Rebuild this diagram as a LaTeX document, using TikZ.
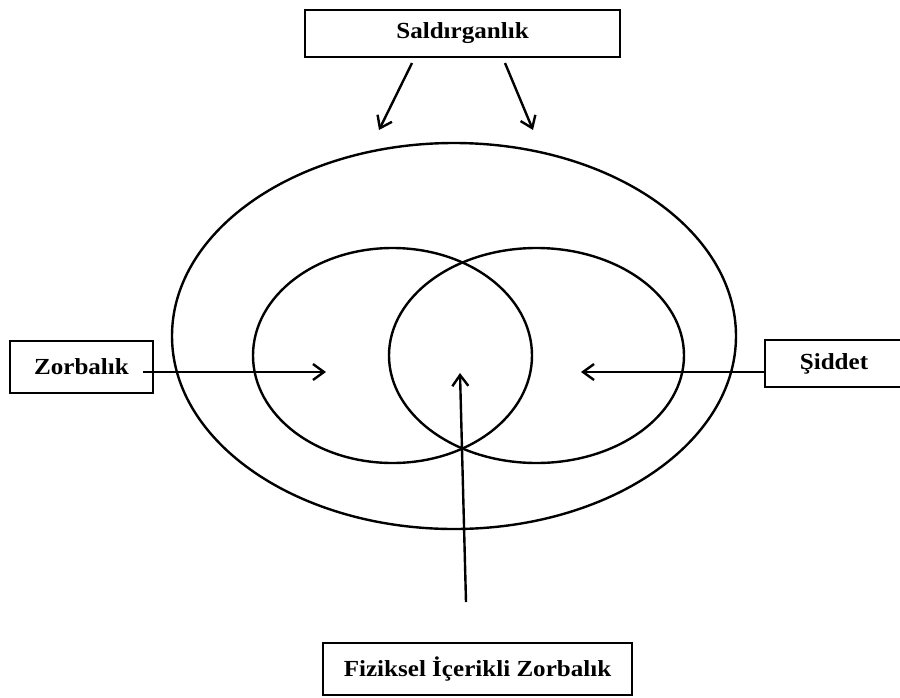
\documentclass[tikz,border=0pt]{standalone}
\usepackage{fontspec}
\setmainfont{Liberation Serif}[FakeStretch=1.09]
\usetikzlibrary{arrows.meta,shapes.geometric}
\tikzset{
  lbl/.style={draw, line width=2.4pt, rectangle, inner sep=0pt, font=\bfseries\fontsize{23}{27}\selectfont},
  ring/.style={draw, line width=2.4pt, ellipse, inner sep=0pt},
  arr/.style={line width=2.4pt, -{Straight Barb[length=11pt,width=16pt,line width=2.4pt]}}
}
\begin{document}
\begin{tikzpicture}[x=1pt,y=-1pt]
\useasboundingbox (0,0) rectangle (900,697);
% boxes
\node[lbl, minimum width=315pt, minimum height=47pt] (sal) at (462.5,33.5) {Saldırganlık};
\node[lbl, minimum width=143pt, minimum height=52pt] (zor) at (81.5,367) {Zorbalık};
\node[lbl, minimum width=138pt, minimum height=47pt] (sid) at (834,363.5) {Şiddet};
\node[lbl, minimum width=309pt, minimum height=52pt] (fiz) at (477.5,669) {Fiziksel İçerikli Zorbalık};
% ellipses
\node[ring, minimum width=564pt, minimum height=386pt] (outer) at (454,336) {};
\node[ring, minimum width=279pt, minimum height=215pt] (left) at (392.5,355.5) {};
\node[ring, minimum width=295pt, minimum height=215pt] (right) at (536.5,355.5) {};
% arrow ends
\coordinate (s1) at (412,63);
\coordinate (t1) at (379,130);
\coordinate (s2) at (505,63);
\coordinate (t2) at (533,130);
\coordinate (zs) at (143,372);
\coordinate (zt) at (326,372);
\coordinate (ss) at (765,372);
\coordinate (st) at (581,372);
\coordinate (fs) at (466,602);
\coordinate (ft) at (460,373);
\draw[arr] (s1) -- (t1);
\draw[arr] (s2) -- (t2);
\draw[arr] (zs) -- (zt);
\draw[arr] (ss) -- (st);
\draw[arr] (fs) -- (ft);
\end{tikzpicture}
\end{document}
